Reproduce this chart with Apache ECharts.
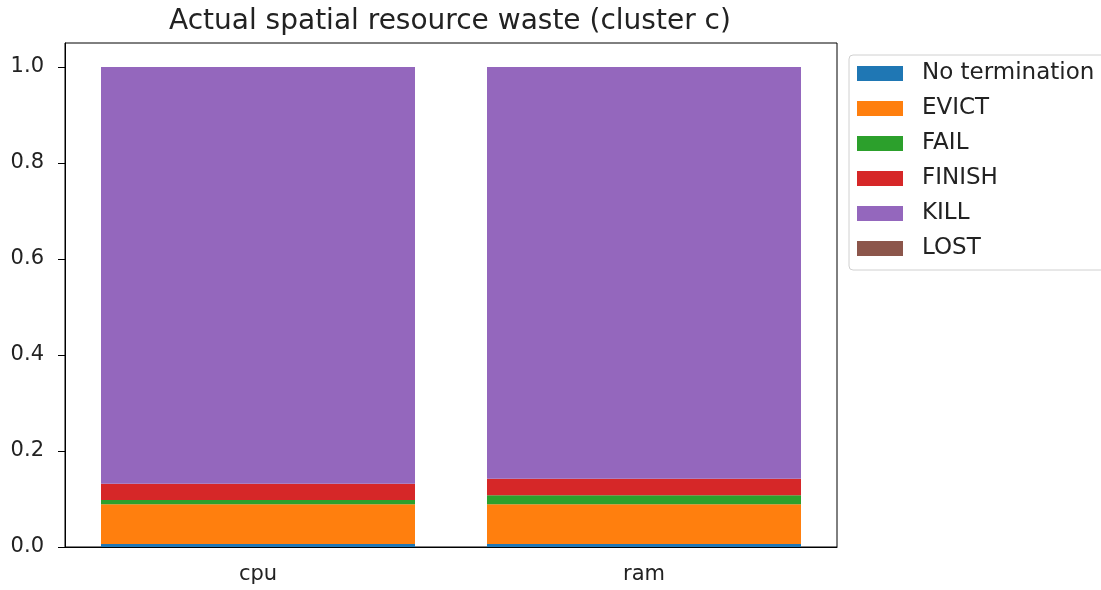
<!DOCTYPE html>
<html lang="en">
<head>
    <meta charset="UTF-8">
    <title>Actual spatial resource waste</title>
    <style>
        body { margin: 0; background: #fff; }
        #chart { width: 1101px; height: 590px; }
    </style>
    <script src="https://cdn.jsdelivr.net/npm/echarts@6/dist/echarts.min.js"></script>
</head>
<body>
    <div id="chart"></div>
    <script>
        // data
        const categories = ['cpu', 'ram'];
        const noTermination = [0.006, 0.006];
        const evict = [0.083, 0.083];
        const fail = [0.009, 0.019];
        const finish = [0.034, 0.034];
        const kill = [0.868, 0.858];
        const lost = [0, 0];

        const names = ['No termination', 'EVICT', 'FAIL', 'FINISH', 'KILL', 'LOST'];
        const values = [noTermination, evict, fail, finish, kill, lost];
        const colors = ['#1f77b4', '#ff7f0e', '#2ca02c', '#d62728', '#9467bd', '#8c564b'];

        const chart = echarts.init(document.getElementById('chart'));
        const font = 'DejaVu Sans';

        chart.setOption({
            animation: false,
            color: colors,
            title: {
                text: 'Actual spatial resource waste (cluster c)',
                left: 169,
                top: 8,
                padding: 0,
                textStyle: { fontFamily: font, fontSize: 28, fontWeight: 'normal', color: '#222' }
            },
            legend: {
                orient: 'vertical',
                left: 849,
                top: 55,
                padding: [7, 30, 10, 8],
                itemWidth: 46,
                itemHeight: 15,
                itemGap: 12,
                borderColor: '#d0d0d0',
                borderWidth: 1,
                borderRadius: 4,
                icon: 'rect',
                textStyle: { fontFamily: font, fontSize: 23, color: '#222', padding: [0, 0, 0, 14] },
                data: names
            },
            grid: {
                left: 65, right: 264, top: 43, bottom: 43,
                show: true, borderColor: '#000', borderWidth: 1
            },
            xAxis: {
                type: 'category',
                data: categories,
                axisLine: { lineStyle: { color: '#000' } },
                axisTick: { alignWithLabel: true, length: 7, lineStyle: { color: '#000' } },
                axisLabel: { fontFamily: font, fontSize: 21, color: '#222', margin: 17 }
            },
            yAxis: {
                type: 'value',
                min: 0,
                max: 1.05,
                interval: 0.2,
                splitLine: { show: false },
                axisLine: { show: true, lineStyle: { color: '#000' } },
                axisTick: { show: true, length: 7, lineStyle: { color: '#000' } },
                axisLabel: {
                    fontFamily: font, fontSize: 21, color: '#222', margin: 21,
                    showMaxLabel: false,
                    formatter: v => v.toFixed(1)
                }
            },
            series: names.map((n, i) => ({
                name: n,
                type: 'bar',
                stack: 'total',
                barWidth: 314,
                data: values[i]
            }))
        });
    </script>
</body>
</html>
